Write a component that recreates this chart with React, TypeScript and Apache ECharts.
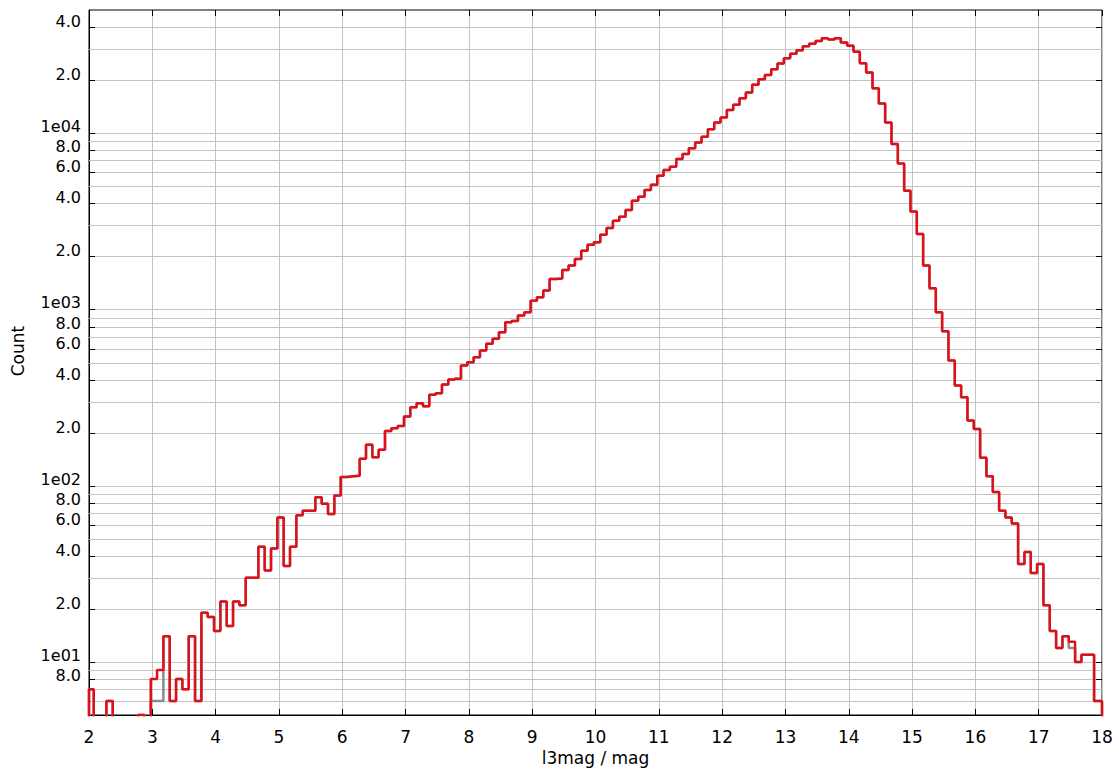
import React, { useEffect, useRef } from "react";
import * as echarts from "echarts";

// Histogram binning (bin left edges = BIN_START + i * BIN_WIDTH)
const BIN_START = 1.975;
const BIN_WIDTH = 0.1;
const X_MIN = 2;
const X_MAX = 18;
const Y_MIN = 5;
const Y_MAX = 50000;

// Red (selected) histogram counts per bin, i = 0..160
const countsSelected = [
  7, 0, 0, 6, 0, 0, 0, 0, 5, 0,
  8, 9, 14, 6, 8, 7, 14, 6, 19, 18,
  15, 22, 16, 22, 21, 30, 30, 45, 33, 44,
  66, 35, 45, 68, 72, 72, 86, 79, 69, 88,
  112, 113, 114, 142, 171, 145, 160, 204, 212, 218,
  247, 279, 294, 282, 328, 335, 375, 400, 404, 481,
  502, 536, 585, 638, 681, 743, 845, 860, 923, 964,
  1122, 1172, 1279, 1489, 1500, 1674, 1773, 1933, 2156, 2331,
  2402, 2654, 2896, 3188, 3357, 3662, 4136, 4361, 4762, 5097,
  5732, 6174, 6444, 7128, 7610, 8227, 8850, 9535, 10540, 11490,
  12270, 13520, 14490, 15810, 17010, 18800, 20240, 21420, 23070, 24820,
  26620, 28260, 29560, 31130, 32200, 33340, 34560, 34000, 34560, 32650,
  31350, 29020, 24900, 22080, 18000, 14730, 11490, 8670, 6730, 4720,
  3600, 2680, 1773, 1318, 964, 752, 513, 370, 318, 234,
  210, 144, 113, 92, 72, 66, 61, 36, 42, 32,
  36, 21, 15, 12, 14, 13, 10, 11, 11, 6,
  6,
];

// Grey (all rows) histogram counts per bin, i = 0..160
const countsAll = [
  7, 0, 0, 6, 0, 0, 0, 0, 5, 0,
  6, 6, 14, 6, 8, 7, 14, 6, 19, 18,
  15, 22, 16, 22, 21, 30, 30, 45, 33, 44,
  66, 35, 45, 68, 72, 72, 86, 79, 69, 88,
  112, 113, 114, 142, 171, 145, 160, 204, 212, 218,
  247, 279, 294, 282, 328, 335, 375, 400, 404, 481,
  502, 536, 585, 638, 681, 743, 845, 860, 923, 964,
  1122, 1172, 1279, 1489, 1500, 1674, 1773, 1933, 2156, 2331,
  2402, 2654, 2896, 3188, 3357, 3662, 4136, 4361, 4762, 5097,
  5732, 6174, 6444, 7128, 7610, 8227, 8850, 9535, 10540, 11490,
  12270, 13520, 14490, 15810, 17010, 18800, 20240, 21420, 23070, 24820,
  26620, 28260, 29560, 31130, 32200, 33340, 34560, 34000, 34560, 32650,
  31350, 29020, 24900, 22080, 18000, 14730, 11490, 8670, 6730, 4720,
  3600, 2680, 1773, 1318, 964, 752, 513, 370, 318, 234,
  210, 144, 113, 92, 72, 66, 61, 36, 42, 32,
  36, 21, 15, 12, 14, 12, 10, 11, 11, 6,
  6,
];

// Horizontal grid lines (1..9 x 10^n inside the range)
const yGridValues = [
  6, 7, 8, 9,
  10, 20, 30, 40, 50, 60, 70, 80, 90,
  100, 200, 300, 400, 500, 600, 700, 800, 900,
  1000, 2000, 3000, 4000, 5000, 6000, 7000, 8000, 9000,
  10000, 20000, 30000, 40000,
];

// Labelled y ticks
const yTickValues = [
  8, 10, 20, 40, 60, 80, 100, 200, 400, 600, 800,
  1000, 2000, 4000, 6000, 8000, 10000, 20000, 40000,
];
const yTickLabels = [
  "8.0", "1e01", "2.0", "4.0", "6.0", "8.0", "1e02", "2.0", "4.0", "6.0", "8.0",
  "1e03", "2.0", "4.0", "6.0", "8.0", "1e04", "2.0", "4.0",
];

const X_NAME = "l3mag / mag";
const Y_NAME = "Count";

const FONT_FAMILY = '"DejaVu Sans", Verdana, sans-serif';
const FONT_SIZE = 17;
const Y_LABEL_SIZE = 16;
const GRID_COLOR = "#c4c4c4";
const RED = "#e0101a";
const GREY = "#8a8a8a";

function stepData(counts: number[]) {
  const FLOOR = 1; // below the axis minimum: empty bins drop to the bottom edge
  const pts: number[][] = [[X_MIN, FLOOR]];
  counts.forEach((c, i) => {
    const x = Math.max(X_MIN, BIN_START + i * BIN_WIDTH);
    pts.push([x, c > 0 ? c : FLOOR]);
  });
  pts.push([X_MAX, FLOOR]);
  return pts;
}

export default function App() {
  const ref = useRef<HTMLDivElement>(null);

  useEffect(() => {
    document.body.style.margin = "0";
    if (!ref.current) return;
    const chart = echarts.init(ref.current, undefined, { renderer: "svg" });

    const font = `${FONT_SIZE}px ${FONT_FAMILY}`;
    const yFont = `${Y_LABEL_SIZE}px ${FONT_FAMILY}`;

    const option: any = {
      animation: false,
      backgroundColor: "#ffffff",
      grid: {
        left: 89,
        right: 17,
        top: 10,
        bottom: 59,
        show: true,
        borderColor: "#000",
        borderWidth: 1,
        backgroundColor: "transparent",
        containLabel: false,
      },
      xAxis: [
        {
          type: "value",
          position: "bottom",
          min: X_MIN,
          max: X_MAX,
          interval: 1,
          name: X_NAME,
          nameLocation: "middle",
          nameGap: 31,
          nameTextStyle: { fontFamily: FONT_FAMILY, fontSize: FONT_SIZE, color: "#000" },
          axisLine: { show: true, lineStyle: { color: "#000", width: 1 } },
          axisTick: { show: true, inside: true, length: 6, lineStyle: { color: "#000" } },
          axisLabel: {
            show: true,
            margin: 13,
            fontFamily: FONT_FAMILY,
            fontSize: FONT_SIZE,
            color: "#000",
          },
          splitLine: { show: true, lineStyle: { color: GRID_COLOR, width: 1 } },
        },
        {
          type: "value",
          position: "top",
          min: X_MIN,
          max: X_MAX,
          interval: 1,
          axisLine: { show: false },
          axisTick: { show: true, inside: true, length: 6, lineStyle: { color: "#000" } },
          axisLabel: { show: false },
          splitLine: { show: false },
        },
      ],
      yAxis: {
        type: "log",
        logBase: 10,
        min: Y_MIN,
        max: Y_MAX,
        axisLine: { show: true, lineStyle: { color: "#000", width: 1 } },
        axisTick: { show: false },
        axisLabel: { show: false },
        splitLine: { show: false },
      },
      graphic: [
        {
          type: "text",
          x: 18,
          y: 351,
          rotation: Math.PI / 2,
          silent: true,
          style: {
            text: Y_NAME,
            font,
            fill: "#000",
            align: "center",
            verticalAlign: "middle",
            textAlign: "center",
            textVerticalAlign: "middle",
          },
        },
      ],
      series: [
        {
          type: "custom",
          coordinateSystem: "cartesian2d",
          xAxisIndex: 0,
          yAxisIndex: 0,
          silent: true,
          z: 1,
          data: yGridValues.map((v) => [X_MIN, v]),
          encode: { x: 0, y: 1 },
          renderItem: (params: any, api: any) => {
            const v = api.value(1);
            const p0 = api.coord([X_MIN, v]);
            const p1 = api.coord([X_MAX, v]);
            const y = Math.round(p0[1]) + 0.5;
            const children: any[] = [
              {
                type: "line",
                shape: { x1: p0[0], y1: y, x2: p1[0], y2: y },
                style: { stroke: GRID_COLOR, lineWidth: 1 },
              },
            ];
            const ti = yTickValues.indexOf(v);
            if (ti >= 0) {
              const label = yTickLabels[ti];
              const isDecade = label.indexOf("e") >= 0;
              const isEight = label === "8.0";
              const dy = isDecade ? -7.5 : isEight ? -4.5 : -6;
              children.push(
                {
                  type: "line",
                  shape: { x1: p0[0], y1: y, x2: p0[0] + 6, y2: y },
                  style: { stroke: "#000", lineWidth: 1 },
                },
                {
                  type: "line",
                  shape: { x1: p1[0] - 6, y1: y, x2: p1[0], y2: y },
                  style: { stroke: "#000", lineWidth: 1 },
                },
                {
                  type: "text",
                  x: p0[0] - 8,
                  y: y + dy,
                  style: {
                    text: label,
                    font: yFont,
                    fill: "#000",
                    align: "right",
                    verticalAlign: "middle",
                    textAlign: "right",
                    textVerticalAlign: "middle",
                  },
                }
              );
            }
            return { type: "group", children };
          },
        },
        {
          name: "all",
          type: "line",
          step: "end",
          data: stepData(countsAll),
          symbol: "none",
          showSymbol: false,
          clip: true,
          z: 3,
          silent: true,
          lineStyle: { color: GREY, width: 2.5 },
        },
        {
          name: "selected",
          type: "line",
          step: "end",
          data: stepData(countsSelected),
          symbol: "none",
          showSymbol: false,
          clip: true,
          z: 4,
          silent: true,
          lineStyle: { color: RED, width: 2.5 },
        },
      ],
    };

    chart.setOption(option);
    return () => {
      chart.dispose();
    };
  }, []);

  return <div ref={ref} style={{ width: 1119, height: 774 }} />;
}
